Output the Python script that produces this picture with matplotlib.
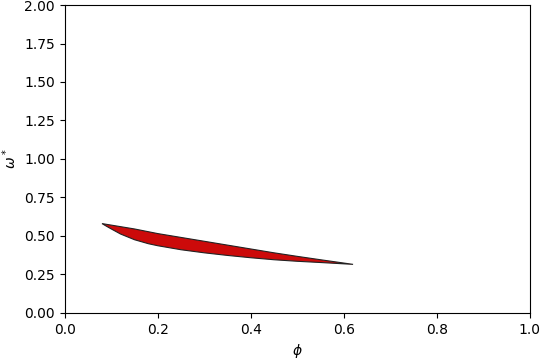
import matplotlib
matplotlib.use("Agg")
import matplotlib.pyplot as plt
import numpy as np

phi = [0.08, 0.09, 0.10, 0.12, 0.15, 0.18, 0.20, 0.25, 0.30, 0.35, 0.40, 0.45, 0.50, 0.55, 0.62]
omega_upper = [0.58, 0.575, 0.57, 0.56, 0.545, 0.527, 0.515, 0.49, 0.465, 0.44, 0.415, 0.39, 0.367, 0.345, 0.315]
omega_lower = [0.58, 0.562, 0.545, 0.512, 0.475, 0.449, 0.436, 0.41, 0.39, 0.373, 0.358, 0.345, 0.335, 0.327, 0.315]

fig = plt.figure(figsize=(5.4, 3.6), dpi=100)
ax = fig.add_axes([0.12, 0.131, 0.861, 0.855])

xs = list(phi) + list(phi[::-1])
ys = list(omega_upper) + list(omega_lower[::-1])
ax.fill(xs, ys, facecolor='#cc0a0a', edgecolor='#222222', linewidth=0.8)

ax.set_xlim(0, 1)
ax.set_ylim(0, 2)
ax.set_xticks(np.arange(0, 1.01, 0.2))
ax.set_yticks(np.arange(0, 2.01, 0.25))
ax.set_xlabel(r'$\phi$')
ax.set_ylabel(r'$\omega^*$')

fig.savefig('out.png', dpi=100)
